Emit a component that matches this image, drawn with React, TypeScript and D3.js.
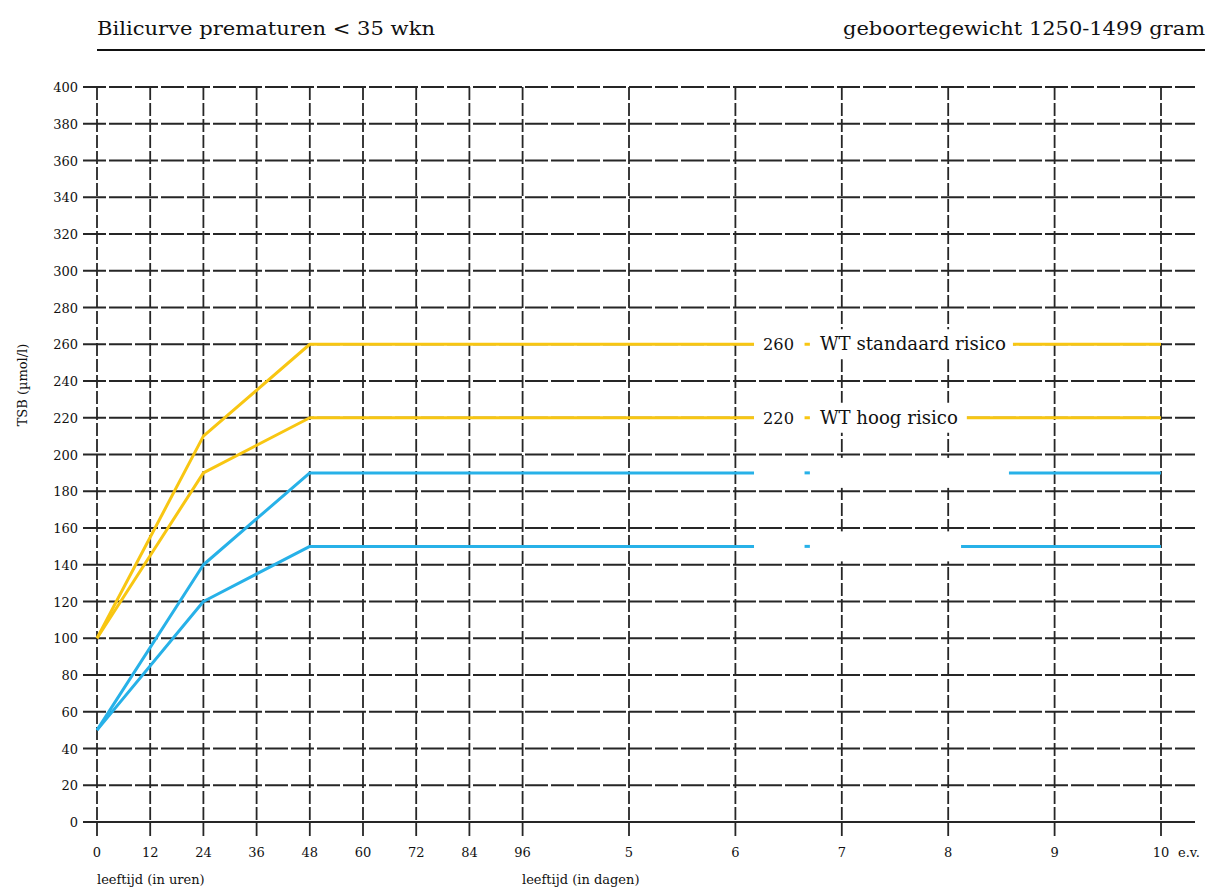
import React, { useEffect, useRef } from 'react';
import * as d3 from 'd3';

// x in hours since birth, y in TSB (umol/l)
const hourTicks = [0, 12, 24, 36, 48, 60, 72, 84, 96];
const dayTicks = [5, 6, 7, 8, 9, 10];
const yTicks = d3.range(0, 401, 20);

const curveHours = [0, 24, 48, 240];
const wtStandaard = [100, 210, 260, 260];
const wtHoog = [100, 190, 220, 220];
const blueHoog = [50, 140, 190, 190];
const blueLaag = [50, 120, 150, 150];

// label gaps on the flat part (hours)
const gapStart = 148.2;
const dashFrom = 159.6;
const dashTo = 160.8;
const gapEnd = [206.6, 196.2, 205.7, 194.9];

const YELLOW = '#F8C612';
const BLUE = '#27B1E8';
const GRID = '#262626';

const App = () => {
  const ref = useRef<SVGSVGElement>(null);
  const width = 1210;
  const height = 889;

  useEffect(() => {
    const svg = d3.select(ref.current);
    svg.selectAll('*').remove();

    const x = d3.scaleLinear().domain([0, 240]).range([97, 1161]);
    const y = d3.scaleLinear().domain([0, 400]).range([822, 87]);
    const serif = '"DejaVu Serif", serif';

    // header
    svg.append('text')
      .attr('x', 97).attr('y', 35)
      .attr('textLength', 338).attr('lengthAdjust', 'spacingAndGlyphs')
      .style('font-family', serif).style('font-size', '19px').style('fill', '#111')
      .text('Bilicurve prematuren < 35 wkn');
    svg.append('text')
      .attr('x', 1205).attr('y', 35).attr('text-anchor', 'end')
      .attr('textLength', 362).attr('lengthAdjust', 'spacingAndGlyphs')
      .style('font-family', serif).style('font-size', '19px').style('fill', '#111')
      .text('geboortegewicht 1250-1499 gram');
    svg.append('line')
      .attr('x1', 97).attr('x2', 1205).attr('y1', 50).attr('y2', 50)
      .attr('stroke', '#111').attr('stroke-width', 2);

    const allX = [...hourTicks, ...dayTicks.map(d => d * 24)];

    // grid
    const g = svg.append('g');
    g.selectAll('.hgrid')
      .data(yTicks.filter(d => d > 0))
      .enter().append('line')
      .attr('x1', 83).attr('x2', 1195)
      .attr('y1', d => y(d)).attr('y2', d => y(d))
      .attr('stroke', GRID).attr('stroke-width', 1.8)
      .attr('stroke-dasharray', '23,3');
    g.selectAll('.vgrid')
      .data(allX)
      .enter().append('line')
      .attr('x1', d => x(d)).attr('x2', d => x(d))
      .attr('y1', y(400)).attr('y2', 838)
      .attr('stroke', GRID).attr('stroke-width', 1.8)
      .attr('stroke-dasharray', '13,3');
    g.append('line')
      .attr('x1', 83).attr('x2', 1195).attr('y1', y(0)).attr('y2', y(0))
      .attr('stroke', GRID).attr('stroke-width', 2);

    // y tick labels
    g.selectAll('.ylab')
      .data(yTicks)
      .enter().append('text')
      .attr('x', 78).attr('y', d => y(d) + 5)
      .attr('text-anchor', 'end')
      .style('font-family', serif).style('font-size', '13px').style('fill', '#111')
      .text(d => d);

    // x tick labels
    g.selectAll('.xlab')
      .data(hourTicks)
      .enter().append('text')
      .attr('x', d => x(d)).attr('y', 857)
      .attr('text-anchor', 'middle')
      .style('font-family', serif).style('font-size', '13px').style('fill', '#111')
      .text(d => d);
    g.selectAll('.dlab')
      .data(dayTicks)
      .enter().append('text')
      .attr('x', d => x(d * 24)).attr('y', 857)
      .attr('text-anchor', 'middle')
      .style('font-family', serif).style('font-size', '13px').style('fill', '#111')
      .text(d => d);
    g.append('text')
      .attr('x', 1178).attr('y', 857)
      .style('font-family', serif).style('font-size', '13px').style('fill', '#111')
      .text('e.v.');

    g.append('text')
      .attr('x', 97).attr('y', 884)
      .style('font-family', serif).style('font-size', '13px').style('fill', '#111')
      .text('leeftijd (in uren)');
    g.append('text')
      .attr('x', 522).attr('y', 884)
      .style('font-family', serif).style('font-size', '13px').style('fill', '#111')
      .text('leeftijd (in dagen)');
    g.append('text')
      .attr('transform', 'translate(27,385) rotate(-90)')
      .attr('text-anchor', 'middle')
      .style('font-family', serif).style('font-size', '13px').style('fill', '#111')
      .text('TSB (µmol/l)');

    // curves
    const series = [
      { values: wtStandaard, color: YELLOW },
      { values: wtHoog, color: YELLOW },
      { values: blueHoog, color: BLUE },
      { values: blueLaag, color: BLUE },
    ];
    const line = d3.line<number>()
      .x((d, i) => x(curveHours[i]))
      .y(d => y(d));

    series.forEach((s, i) => {
      const level = s.values[s.values.length - 1];
      svg.append('path')
        .attr('d', line(s.values))
        .attr('fill', 'none')
        .attr('stroke', s.color)
        .attr('stroke-width', 3)
        .attr('stroke-linejoin', 'round');
      // white label box
      svg.append('rect')
        .attr('x', x(gapStart))
        .attr('y', y(level) - 15)
        .attr('width', x(gapEnd[i]) - x(gapStart))
        .attr('height', 30)
        .attr('fill', '#fff');
      svg.append('line')
        .attr('x1', x(dashFrom)).attr('x2', x(dashTo))
        .attr('y1', y(level)).attr('y2', y(level))
        .attr('stroke', s.color).attr('stroke-width', 3);
    });

    // inline labels
    const labels = [
      { value: wtStandaard[2], text: 'WT standaard risico', len: 186 },
      { value: wtHoog[2], text: 'WT hoog risico', len: 138 },
    ];
    labels.forEach(l => {
      svg.append('text')
        .attr('x', x(gapStart) + 9).attr('y', y(l.value) + 6)
        .attr('textLength', 31).attr('lengthAdjust', 'spacingAndGlyphs')
        .style('font-family', serif).style('font-size', '17px').style('fill', '#111')
        .text(l.value);
      svg.append('text')
        .attr('x', x(dashTo) + 10).attr('y', y(l.value) + 6)
        .attr('textLength', l.len).attr('lengthAdjust', 'spacingAndGlyphs')
        .style('font-family', serif).style('font-size', '18px').style('fill', '#111')
        .text(l.text);
    });
  }, []);

  return (
    <svg
      ref={ref}
      width={width}
      height={height}
      viewBox={`0 0 ${width} ${height}`}
      style={{ position: 'absolute', left: 0, top: 0, background: '#fff' }}
    />
  );
};

export default App;
